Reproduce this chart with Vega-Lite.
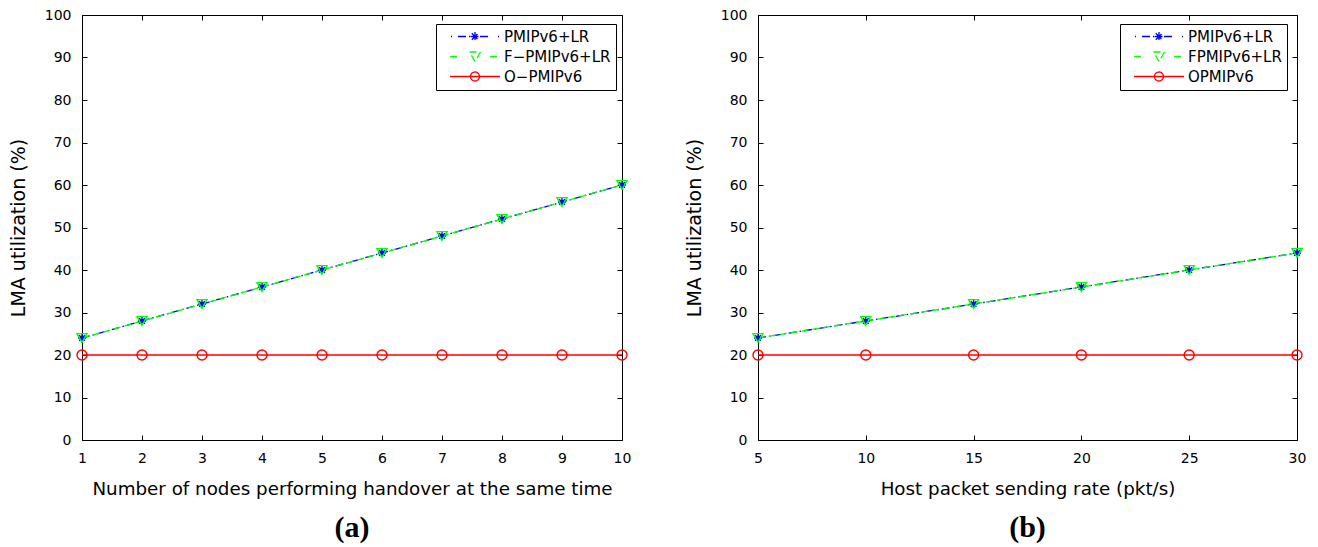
{
  "$schema": "https://vega.github.io/schema/vega-lite/v6.json",
  "padding": {"left": 9, "top": 8, "right": 0, "bottom": 0},
  "datasets": {
    "a": [
      {"x": 1, "y": 24, "series": "PMIPv6+LR"}, {"x": 2, "y": 28, "series": "PMIPv6+LR"}, {"x": 3, "y": 32, "series": "PMIPv6+LR"}, {"x": 4, "y": 36, "series": "PMIPv6+LR"}, {"x": 5, "y": 40, "series": "PMIPv6+LR"}, {"x": 6, "y": 44, "series": "PMIPv6+LR"}, {"x": 7, "y": 48, "series": "PMIPv6+LR"}, {"x": 8, "y": 52, "series": "PMIPv6+LR"}, {"x": 9, "y": 56, "series": "PMIPv6+LR"}, {"x": 10, "y": 60, "series": "PMIPv6+LR"},
      {"x": 1, "y": 24, "series": "F−PMIPv6+LR"}, {"x": 2, "y": 28, "series": "F−PMIPv6+LR"}, {"x": 3, "y": 32, "series": "F−PMIPv6+LR"}, {"x": 4, "y": 36, "series": "F−PMIPv6+LR"}, {"x": 5, "y": 40, "series": "F−PMIPv6+LR"}, {"x": 6, "y": 44, "series": "F−PMIPv6+LR"}, {"x": 7, "y": 48, "series": "F−PMIPv6+LR"}, {"x": 8, "y": 52, "series": "F−PMIPv6+LR"}, {"x": 9, "y": 56, "series": "F−PMIPv6+LR"}, {"x": 10, "y": 60, "series": "F−PMIPv6+LR"},
      {"x": 1, "y": 20, "series": "O−PMIPv6"}, {"x": 2, "y": 20, "series": "O−PMIPv6"}, {"x": 3, "y": 20, "series": "O−PMIPv6"}, {"x": 4, "y": 20, "series": "O−PMIPv6"}, {"x": 5, "y": 20, "series": "O−PMIPv6"}, {"x": 6, "y": 20, "series": "O−PMIPv6"}, {"x": 7, "y": 20, "series": "O−PMIPv6"}, {"x": 8, "y": 20, "series": "O−PMIPv6"}, {"x": 9, "y": 20, "series": "O−PMIPv6"}, {"x": 10, "y": 20, "series": "O−PMIPv6"}
    ],
    "b": [
      {"x": 5, "y": 24, "series": "PMIPv6+LR"}, {"x": 10, "y": 28, "series": "PMIPv6+LR"}, {"x": 15, "y": 32, "series": "PMIPv6+LR"}, {"x": 20, "y": 36, "series": "PMIPv6+LR"}, {"x": 25, "y": 40, "series": "PMIPv6+LR"}, {"x": 30, "y": 44, "series": "PMIPv6+LR"},
      {"x": 5, "y": 24, "series": "FPMIPv6+LR"}, {"x": 10, "y": 28, "series": "FPMIPv6+LR"}, {"x": 15, "y": 32, "series": "FPMIPv6+LR"}, {"x": 20, "y": 36, "series": "FPMIPv6+LR"}, {"x": 25, "y": 40, "series": "FPMIPv6+LR"}, {"x": 30, "y": 44, "series": "FPMIPv6+LR"},
      {"x": 5, "y": 20, "series": "OPMIPv6"}, {"x": 10, "y": 20, "series": "OPMIPv6"}, {"x": 15, "y": 20, "series": "OPMIPv6"}, {"x": 20, "y": 20, "series": "OPMIPv6"}, {"x": 25, "y": 20, "series": "OPMIPv6"}, {"x": 30, "y": 20, "series": "OPMIPv6"}
    ]
  },
  "spacing": 136,
  "bounds": "flush",
  "hconcat": [
    {
      "width": 540,
      "height": 425,
      "data": {"name": "a"},
      "title": {"text": "(a)", "orient": "bottom", "anchor": "middle", "font": "Liberation Serif", "fontSize": 30, "fontWeight": "bold", "color": "black", "offset": 15},
      "layer": [
        {
          "mark": {"type": "line", "strokeWidth": 1.3},
          "encoding": {
            "x": {"field": "x", "type": "quantitative", "scale": {"domain": [1, 10], "nice": false, "zero": false}, "axis": {"title": "Number of nodes performing handover at the same time", "values": [1, 2, 3, 4, 5, 6, 7, 8, 9, 10]}},
            "y": {"field": "y", "type": "quantitative", "scale": {"domain": [0, 100], "nice": false}, "axis": {"title": "LMA utilization (%)", "values": [0, 10, 20, 30, 40, 50, 60, 70, 80, 90, 100]}},
            "color": {"field": "series", "type": "nominal", "scale": {"domain": ["PMIPv6+LR", "F−PMIPv6+LR", "O−PMIPv6"], "range": ["#0000ff", "#00ff00", "#ff0000"]},
              "legend": {"legendX": 354, "legendY": 9,
                "symbolType": {"expr": "datum.index === 0 ? 'M-24,0L-23,0M-17,0L-5,0M-4.5,0L4.5,0M0,-4.5L0,4.5M-3.2,-3.2L3.2,3.2M-3.2,3.2L3.2,-3.2M5,0L16,0M23,0L24,0' : datum.index === 1 ? 'M-25,0L-17,0M-5.5,-4.5L5.5,-4.5L0,5Z M15,0L25,0' : 'M-25,0L25,0M4.5,0A4.5,4.5,0,1,1,-4.5,0A4.5,4.5,0,1,1,4.5,0'"},
                "symbolDash": [1, 0], "symbolFillColor": "transparent", "symbolSize": 4, "symbolStrokeWidth": 1.3, "symbolOffset": 26.5, "labelOffset": 21.5}},
            "strokeDash": {"field": "series", "type": "nominal", "scale": {"domain": ["PMIPv6+LR", "F−PMIPv6+LR", "O−PMIPv6"], "range": [[8, 3, 1.5, 3], [7, 4], [1, 0]]}, "legend": null}
          }
        },
        {
          "transform": [{"filter": "datum.series === 'PMIPv6+LR'"}],
          "mark": {"type": "point", "shape": "M-0.8,0L0.8,0M0,-0.8L0,0.8M-0.57,-0.57L0.57,0.57M-0.57,0.57L0.57,-0.57", "filled": false, "color": "#0000ff", "strokeWidth": 1.4, "opacity": 1, "size": 100},
          "encoding": {"x": {"field": "x", "type": "quantitative", "axis": null}, "y": {"field": "y", "type": "quantitative", "axis": null}}
        },
        {
          "transform": [{"filter": "datum.series === 'F−PMIPv6+LR'"}],
          "mark": {"type": "point", "shape": "triangle-down", "filled": false, "color": "#00ff00", "strokeWidth": 1.4, "opacity": 1, "size": 100},
          "encoding": {"x": {"field": "x", "type": "quantitative", "axis": null}, "y": {"field": "y", "type": "quantitative", "axis": null}}
        },
        {
          "transform": [{"filter": "datum.series === 'O−PMIPv6'"}],
          "mark": {"type": "point", "shape": "circle", "filled": false, "color": "#ff0000", "strokeWidth": 1.4, "opacity": 1, "size": 100},
          "encoding": {"x": {"field": "x", "type": "quantitative", "axis": null}, "y": {"field": "y", "type": "quantitative", "axis": null}}
        },
        {
          "mark": {"type": "point", "opacity": 0},
          "encoding": {
            "x": {"field": "x", "type": "quantitative", "axis": {"orient": "top", "labels": false, "title": null, "values": [1, 2, 3, 4, 5, 6, 7, 8, 9, 10]}},
            "y": {"field": "y", "type": "quantitative", "axis": {"orient": "right", "labels": false, "title": null, "values": [0, 10, 20, 30, 40, 50, 60, 70, 80, 90, 100]}}
          }
        }
      ],
      "resolve": {"axis": {"x": "independent", "y": "independent"}}
    },
    {
      "width": 539,
      "height": 425,
      "data": {"name": "b"},
      "title": {"text": "(b)", "orient": "bottom", "anchor": "middle", "font": "Liberation Serif", "fontSize": 30, "fontWeight": "bold", "color": "black", "offset": 15},
      "layer": [
        {
          "mark": {"type": "line", "strokeWidth": 1.3},
          "encoding": {
            "x": {"field": "x", "type": "quantitative", "scale": {"domain": [5, 30], "nice": false, "zero": false}, "axis": {"title": "Host packet sending rate (pkt/s)", "values": [5, 10, 15, 20, 25, 30]}},
            "y": {"field": "y", "type": "quantitative", "scale": {"domain": [0, 100], "nice": false}, "axis": {"title": "LMA utilization (%)", "values": [0, 10, 20, 30, 40, 50, 60, 70, 80, 90, 100]}},
            "color": {"field": "series", "type": "nominal", "scale": {"domain": ["PMIPv6+LR", "FPMIPv6+LR", "OPMIPv6"], "range": ["#0000ff", "#00ff00", "#ff0000"]},
              "legend": {"legendX": 362, "legendY": 9,
                "symbolType": {"expr": "datum.index === 0 ? 'M-24,0L-23,0M-17,0L-5,0M-4.5,0L4.5,0M0,-4.5L0,4.5M-3.2,-3.2L3.2,3.2M-3.2,3.2L3.2,-3.2M5,0L16,0M23,0L24,0' : datum.index === 1 ? 'M-25,0L-17,0M-5.5,-4.5L5.5,-4.5L0,5Z M15,0L25,0' : 'M-25,0L25,0M4.5,0A4.5,4.5,0,1,1,-4.5,0A4.5,4.5,0,1,1,4.5,0'"},
                "symbolDash": [1, 0], "symbolFillColor": "transparent", "symbolSize": 4, "symbolStrokeWidth": 1.3, "symbolOffset": 26.5, "labelOffset": 21.5}},
            "strokeDash": {"field": "series", "type": "nominal", "scale": {"domain": ["PMIPv6+LR", "FPMIPv6+LR", "OPMIPv6"], "range": [[8, 3, 1.5, 3], [7, 4], [1, 0]]}, "legend": null}
          }
        },
        {
          "transform": [{"filter": "datum.series === 'PMIPv6+LR'"}],
          "mark": {"type": "point", "shape": "M-0.8,0L0.8,0M0,-0.8L0,0.8M-0.57,-0.57L0.57,0.57M-0.57,0.57L0.57,-0.57", "filled": false, "color": "#0000ff", "strokeWidth": 1.4, "opacity": 1, "size": 100},
          "encoding": {"x": {"field": "x", "type": "quantitative", "axis": null}, "y": {"field": "y", "type": "quantitative", "axis": null}}
        },
        {
          "transform": [{"filter": "datum.series === 'FPMIPv6+LR'"}],
          "mark": {"type": "point", "shape": "triangle-down", "filled": false, "color": "#00ff00", "strokeWidth": 1.4, "opacity": 1, "size": 100},
          "encoding": {"x": {"field": "x", "type": "quantitative", "axis": null}, "y": {"field": "y", "type": "quantitative", "axis": null}}
        },
        {
          "transform": [{"filter": "datum.series === 'OPMIPv6'"}],
          "mark": {"type": "point", "shape": "circle", "filled": false, "color": "#ff0000", "strokeWidth": 1.4, "opacity": 1, "size": 100},
          "encoding": {"x": {"field": "x", "type": "quantitative", "axis": null}, "y": {"field": "y", "type": "quantitative", "axis": null}}
        },
        {
          "mark": {"type": "point", "opacity": 0},
          "encoding": {
            "x": {"field": "x", "type": "quantitative", "axis": {"orient": "top", "labels": false, "title": null, "values": [5, 10, 15, 20, 25, 30]}},
            "y": {"field": "y", "type": "quantitative", "axis": {"orient": "right", "labels": false, "title": null, "values": [0, 10, 20, 30, 40, 50, 60, 70, 80, 90, 100]}}
          }
        }
      ],
      "resolve": {"axis": {"x": "independent", "y": "independent"}}
    }
  ],
  "resolve": {
    "scale": {"color": "independent", "strokeDash": "independent", "x": "independent", "y": "independent"},
    "legend": {"color": "independent"}
  },
  "config": {
    "font": "DejaVu Sans",
    "background": "white",
    "view": {"stroke": null},
    "axis": {
      "grid": false, "domainColor": "black", "domainWidth": 1, "tickColor": "black", "tickSize": -5, "tickWidth": 1,
      "labelFont": "DejaVu Sans", "labelFontSize": 14, "labelColor": "black", "labelFlush": false, "labelOverlap": false,
      "titleFont": "DejaVu Sans", "titleFontSize": 18.3, "titleFontWeight": "normal", "titleColor": "black"
    },
    "axisX": {"labelPadding": 16.5, "titlePadding": 15},
    "axisY": {"labelPadding": 16, "titlePadding": 16, "titleFontSize": 19},
    "legend": {
      "orient": "none", "title": null, "strokeColor": "black", "fillColor": "white", "padding": 5, "cornerRadius": 0,
      "labelFont": "DejaVu Sans", "labelFontSize": 15, "labelColor": "black", "rowPadding": 4
    }
  }
}
